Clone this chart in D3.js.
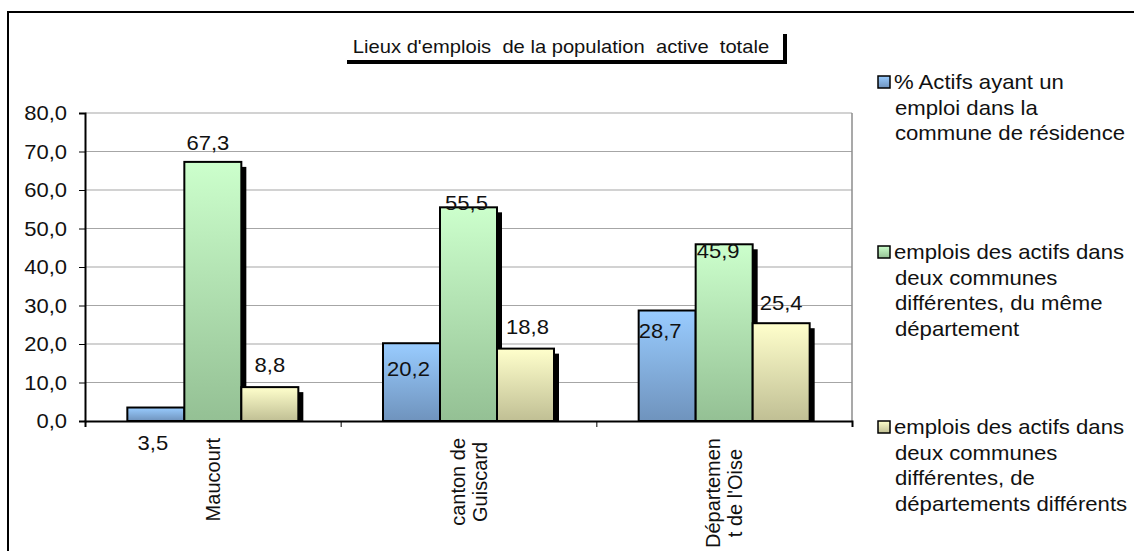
<!DOCTYPE html>
<html>
<head>
<meta charset="utf-8">
<script src="https://cdn.jsdelivr.net/npm/d3@7"></script>
<style>
    body { margin: 0; background: #fff; }
    text { font-family: "Liberation Sans", Arial, sans-serif; fill: #111; }
</style>
</head>
<body>
<div id="chart"></div>
<script>
// chart values
var categories = ["Maucourt", "canton de Guiscard", "Département de l'Oise"];
var categoryLines = [["Maucourt"], ["canton de", "Guiscard"], ["Départemen", "t de l'Oise"]];
var seriesNames = [
    "% Actifs ayant un emploi dans la commune de résidence",
    "emplois des actifs dans deux communes différentes, du même département",
    "emplois des actifs dans deux communes différentes, de départements différents"
];
var legendLines = [
    ["% Actifs ayant un", "emploi dans la", "commune de résidence"],
    ["emplois des actifs dans", "deux communes", "différentes, du même", "département"],
    ["emplois des actifs dans", "deux communes", "différentes, de", "départements différents"]
];
var actifsCommune = [3.5, 20.2, 28.7];
var memeDepartement = [67.3, 55.5, 45.9];
var autreDepartement = [8.8, 18.8, 25.4];
var yTicks = [0, 10, 20, 30, 40, 50, 60, 70, 80];
var title = "Lieux d'emplois  de la population  active  totale";

var seriesValues = [actifsCommune, memeDepartement, autreDepartement];

// label nudges (px from bar top), as Excel placed them
var labelDy = [[35, 26, 20], [-19, -4, 7], [-22, -22, -20]];
var labelDx = [[-3, -3, -7], [-5, -2, -6], [0, 2, 0]];

var svgWidth = 1134;
var svgHeight = 551;

var plot = { left: 85, right: 852, top: 113, bottom: 421 };
var barWidth = 57;
var fontSize = 20;
var stretch = 1.1; // the original text is slightly wide

var colors = [
    { top: "#99ccff", bottom: "#6f93bd" },
    { top: "#ccffcc", bottom: "#94c094" },
    { top: "#ffffcc", bottom: "#c0bf94" }
];

var svg = d3.select("#chart")
    .append("svg")
    .attr("width", svgWidth)
    .attr("height", svgHeight);

// horizontal text, a bit widened
function addText(parent, x, y, str, size, anchor, sx) {
    return parent.append("text")
        .attr("transform", `translate(${x}, ${y}) scale(${sx || stretch}, 1)`)
        .attr("dy", "0.35em")
        .attr("text-anchor", anchor || "start")
        .attr("font-size", size + "px")
        .style("white-space", "pre")
        .text(str);
}

var defs = svg.append("defs");
colors.forEach(function (c, i) {
    var grad = defs.append("linearGradient")
        .attr("id", "grad" + i)
        .attr("x1", 0).attr("y1", 0).attr("x2", 0).attr("y2", 1);
    grad.append("stop").attr("offset", "0%").attr("stop-color", c.top);
    grad.append("stop").attr("offset", "100%").attr("stop-color", c.bottom);
});

// outer frame (only top and left visible)
svg.append("path")
    .attr("d", `M8,${svgHeight} V12 H${svgWidth}`)
    .attr("fill", "none")
    .attr("stroke", "#000")
    .attr("stroke-width", 2);

// title with its shadowed box
svg.append("path")
    .attr("d", "M347,62 H785 V34")
    .attr("fill", "none")
    .attr("stroke", "#000")
    .attr("stroke-width", 4);

addText(svg, 561, 47, title, 18, "middle", 1.12);

// scales
var xScale = d3.scaleBand()
    .domain(categories)
    .range([plot.left, plot.right]);

var yScale = d3.scaleLinear()
    .domain([0, 80])
    .range([plot.bottom, plot.top]);

// gridlines
svg.append("g")
    .selectAll("line")
    .data(yTicks.filter(d => d > 0))
    .enter()
    .append("line")
    .attr("x1", plot.left)
    .attr("x2", plot.right)
    .attr("y1", d => yScale(d))
    .attr("y2", d => yScale(d))
    .attr("stroke", "#a6a6a6")
    .attr("stroke-width", 1.2);

// right border of plot area
svg.append("line")
    .attr("x1", plot.right).attr("x2", plot.right)
    .attr("y1", plot.top).attr("y2", plot.bottom)
    .attr("stroke", "#8c8c8c")
    .attr("stroke-width", 1.5);

// bars with drop shadows
var barsGroup = svg.append("g");
categories.forEach(function (cat, ci) {
    var groupLeft = xScale(cat) + xScale.bandwidth() / 2 - barWidth * 1.5;
    seriesValues.forEach(function (vals, si) {
        var x = groupLeft + si * barWidth;
        var y = yScale(vals[ci]);
        barsGroup.append("rect")
            .attr("x", x + 5)
            .attr("y", y + 5)
            .attr("width", barWidth)
            .attr("height", Math.max(0, plot.bottom - y - 5))
            .attr("fill", "#000");
        barsGroup.append("rect")
            .attr("x", x)
            .attr("y", y)
            .attr("width", barWidth)
            .attr("height", plot.bottom - y)
            .attr("fill", "url(#grad" + si + ")")
            .attr("stroke", "#000")
            .attr("stroke-width", 2);
    });
});

// value labels
var fmt = d => d3.format(".1f")(d).replace(".", ",");
categories.forEach(function (cat, ci) {
    var groupLeft = xScale(cat) + xScale.bandwidth() / 2 - barWidth * 1.5;
    seriesValues.forEach(function (vals, si) {
        var x = groupLeft + si * barWidth + barWidth / 2;
        addText(svg, x + labelDx[si][ci], yScale(vals[ci]) + labelDy[si][ci],
            fmt(vals[ci]), fontSize, "middle");
    });
});

// y axis
var leftAxis = d3.axisLeft(yScale)
    .tickValues(yTicks)
    .tickSize(6)
    .tickFormat(fmt);

var yAxis = svg.append("g")
    .attr("transform", `translate(${plot.left}, 0)`)
    .call(leftAxis);
yAxis.select(".domain").attr("stroke-width", 2);
yAxis.selectAll("text").remove();
yTicks.forEach(function (t) {
    addText(svg, 67, yScale(t), fmt(t), fontSize, "end");
});

// x axis with ticks at category boundaries
var bottomAxis = d3.axisBottom(d3.scaleLinear().domain([0, 3]).range([plot.left, plot.right]))
    .tickValues([0, 1, 2, 3])
    .tickSize(6)
    .tickFormat("");

svg.append("g")
    .attr("transform", `translate(0, ${plot.bottom})`)
    .call(bottomAxis)
    .select(".domain")
    .attr("stroke-width", 2);

// rotated category labels
var lineGap = 22;
categories.forEach(function (cat, ci) {
    var lines = categoryLines[ci];
    var cx = xScale(cat) + xScale.bandwidth() / 2;
    var g = svg.append("g");
    var texts = lines.map(function (line) {
        return g.append("text")
            .attr("font-size", "20px")
            .attr("text-anchor", "middle")
            .text(line);
    });
    var maxLen = d3.max(texts, t => t.node().getComputedTextLength());
    var cy = 438 + maxLen / 2;
    texts.forEach(function (t, li) {
        var x = cx + (li - (lines.length - 1) / 2) * lineGap + 7;
        t.attr("transform", `translate(${x}, ${cy}) rotate(-90)`);
    });
});

// legend
var legendTop = [82, 252, 427];
var legendGap = 25.5;
legendLines.forEach(function (lines, si) {
    var g = svg.append("g")
        .attr("transform", `translate(878, ${legendTop[si]})`);
    g.append("rect")
        .attr("x", 0)
        .attr("y", -6)
        .attr("width", 12)
        .attr("height", 12)
        .attr("fill", "url(#grad" + si + ")")
        .attr("stroke", "#000")
        .attr("stroke-width", 1.5);
    lines.forEach(function (line, li) {
        addText(g, li === 0 ? 16 : 17, li * legendGap, line, 20.5, "start", 1.08);
    });
});
</script>
</body>
</html>
